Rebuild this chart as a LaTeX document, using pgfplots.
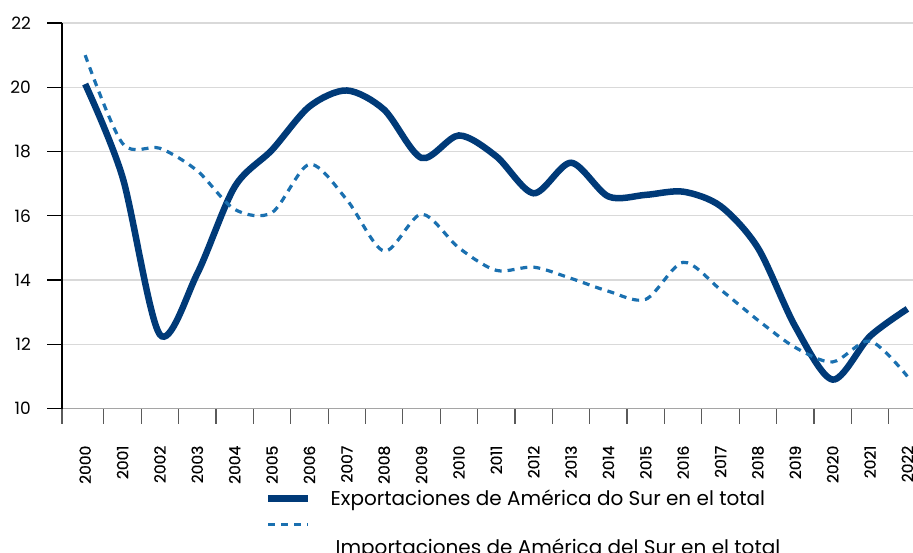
\documentclass[border=0pt]{standalone}
\usepackage{fontspec}
\setmainfont{Poppins}
\newfontfamily\yearfont{Poppins}[FakeBold=0.6]
\usepackage{pgfplots}
\usepackage{pgfplotstable}
\pgfplotsset{compat=1.18}

\definecolor{expcol}{RGB}{0,58,120}
\definecolor{impcol}{RGB}{26,112,176}
\definecolor{gridgray}{RGB}{217,217,217}
\definecolor{axisgray}{RGB}{165,165,165}
\definecolor{tickgray}{RGB}{90,90,90}

% share of South America in total (%)
\pgfplotstableread{
year exp imp
2000 20.1 21.0
2001 17.2 18.25
2002 12.3 18.1
2003 14.2 17.4
2004 16.9 16.2
2005 18.05 16.1
2006 19.4 17.6
2007 19.9 16.5
2008 19.3 14.9
2009 17.8 16.05
2010 18.5 15.0
2011 17.85 14.3
2012 16.7 14.4
2013 17.65 14.05
2014 16.6 13.65
2015 16.65 13.4
2016 16.75 14.55
2017 16.3 13.7
2018 15.0 12.75
2019 12.55 11.9
2020 10.9 11.45
2021 12.25 12.1
2022 13.1 11.0
}\datatable

\begin{document}
\begin{tikzpicture}
\begin{axis}[
    at={(0pt,0pt)}, anchor=south west,
    scale only axis, width=851pt, height=385.5pt,
    xmin=1999.38, xmax=2022.15, ymin=10, ymax=22,
    axis x line*=bottom, axis y line*=left,
    x axis line style={axisgray, line width=1.4pt, -},
    y axis line style={black, line width=1.2pt, -},
    tick align=outside, major tick length=15pt,
    ytick={10,12,...,22},
    ytick style={black, line width=1.2pt},
    yticklabel style={font=\fontsize{17}{20}\selectfont, inner sep=0pt, xshift=-16pt},
    ymajorgrids, grid style={gridgray, line width=1.2pt},
    xtick={1999.38,2000.5,2001.5,2002.5,2003.5,2004.5,2005.5,2006.5,2007.5,2008.5,2009.5,2010.5,2011.5,2012.5,2013.5,2014.5,2015.5,2016.5,2017.5,2018.5,2019.5,2020.5,2021.5},
    xticklabels={},
    xtick style={tickgray, line width=1.2pt},
    extra x ticks={2000,2001,...,2022},
    extra x tick style={tick style={draw=none}},
    xticklabel style={rotate=90, anchor=east, inner sep=0pt, font=\yearfont\fontsize{15.5}{18}\selectfont},
    xticklabel shift=22pt,
    /pgf/number format/1000 sep={},
    /pgf/number format/assume math mode=true,
    legend style={draw=none, fill=none, at={(0.235,-0.206)}, anchor=north west,
        font=\fontsize{20}{24}\selectfont, nodes={inner sep=0pt}, row sep=9pt, column sep=19pt},
    legend cell align=left,
    legend image code/.code={\draw[#1] (0pt,0pt) -- (40pt,0pt);},
]
\addplot[expcol, line width=6.5pt, smooth] table[x=year, y=exp] {\datatable};
\addlegendentry{Exportaciones de América do Sur en el total}
\addplot[impcol, line width=3.2pt, smooth, dash pattern=on 7pt off 6pt] table[x=year, y=imp] {\datatable};
\addlegendentry{\hspace*{5pt}\raisebox{-23pt}[\height][\depth]{Importaciones de América del Sur en el total}}
\end{axis}
\pgfresetboundingbox
\useasboundingbox (-62pt,-143.5pt) rectangle (851pt,408.5pt);
\end{tikzpicture}
\end{document}
